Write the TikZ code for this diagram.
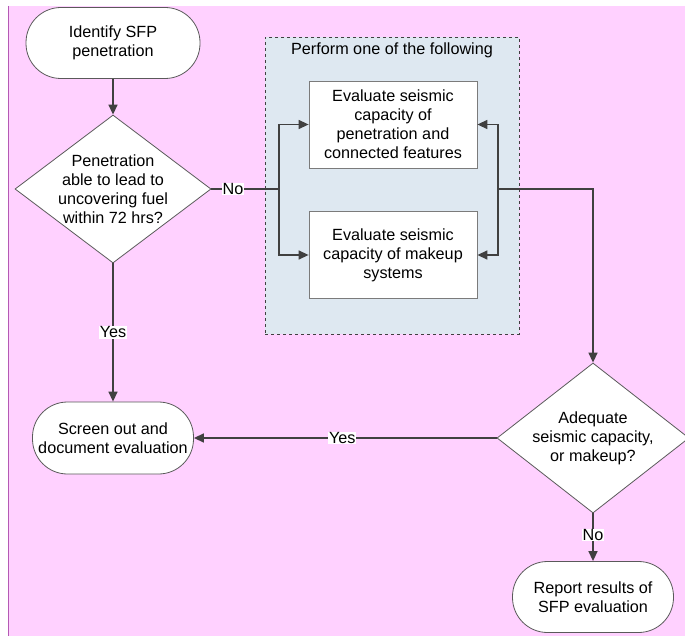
\documentclass[tikz,border=0pt]{standalone}
\usepackage{fontspec}
\setmainfont{Liberation Sans}
\usetikzlibrary{shapes.geometric,arrows.meta,calc}
\definecolor{bgpink}{RGB}{255,209,255}
\definecolor{edgepurple}{RGB}{180,90,180}
\definecolor{grpblue}{RGB}{222,232,241}
\definecolor{ln}{RGB}{64,64,64}
\definecolor{bd}{RGB}{90,90,90}
\begin{document}
\begin{tikzpicture}[x=1pt,y=-1pt,
  every node/.style={font=\fontsize{16.2}{19}\selectfont, text=black},
  term/.style={draw=bd, line width=0.8pt, fill=white, rounded corners=35pt, align=center, inner sep=0pt},
  dia/.style={draw=bd, line width=0.8pt, fill=white, diamond, inner sep=0pt, minimum width=196pt, minimum height=148pt},
  procbox/.style={draw=bd!80, line width=0.8pt, fill=white, align=center, inner sep=0pt, minimum width=168pt, minimum height=87pt},
  conn/.style={draw=ln, line width=1.4pt},
  arr/.style={conn, -{Triangle[length=10pt,width=9pt]}},
  lbl/.style={fill=white, inner sep=0.6pt}
]
\useasboundingbox (0,0) rectangle (685,636);
\fill[bgpink] (8,6) rectangle (685,636);
\draw[edgepurple, line width=1.4pt] (8.7,6) -- (8.7,636);

% group container
\node[draw=ln, dashed, line width=0.8pt, fill=grpblue, minimum width=254pt, minimum height=297pt, inner sep=0pt] (grp) at (392,185.5) {};
\node (grplbl) at (392,50) {Perform one of the following};

% nodes
\node[term, minimum width=174pt, minimum height=71pt] (start) at (113,43) {Identify SFP\\penetration};
\node[dia] (d1) at (113,189) {};
\node[align=center] (d1t) at (d1.center) {Penetration\\able to lead to\\uncovering fuel\\within 72 hrs?};
\node[procbox] (b1) at (393,124.5) {Evaluate seismic\\capacity of\\penetration and\\connected features};
\node[procbox] (b2) at (393,255) {Evaluate seismic\\capacity of makeup\\systems};
\node[term, minimum width=161pt, minimum height=72pt] (scr) at (113,438) {Screen out and\\document evaluation};
\node[dia, minimum width=192pt, minimum height=150pt] (d2) at (593,438) {};
\node[align=center] (d2t) at (d2.center) {Adequate\\seismic capacity,\\or makeup?};
\node[term, minimum width=161pt, minimum height=71pt] (rep) at (593,597) {Report results of\\SFP evaluation};

\coordinate (sl) at (279,189);
\coordinate (sr) at (498,189);

% connectors
\draw[arr] (start) -- (d1);
\draw[conn] (d1.east) -- node[lbl, pos=0.32] {No} (sl);
\draw[arr] (sl) |- (b1.west);
\draw[arr] (sl) |- (b2.west);
\draw[arr] (sr) |- (b1.east);
\draw[arr] (sr) |- (b2.east);
\draw[arr] (sr) -| (d2.north);
\draw[arr] (d1.south) -- node[lbl, pos=0.5] {Yes} (scr.north);
\draw[arr] (d2.west) -- node[lbl, pos=0.51] {Yes} (scr.east);
\draw[arr] (d2.south) -- node[lbl, pos=0.45] {No} (rep.north);
\end{tikzpicture}
\end{document}
